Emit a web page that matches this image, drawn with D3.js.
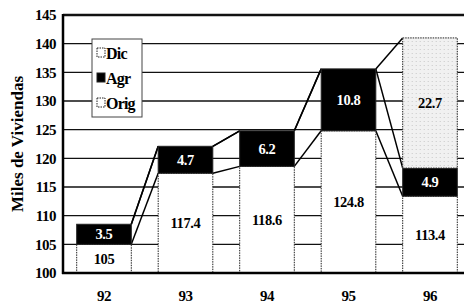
<!DOCTYPE html>
<html>
<head>
<meta charset="utf-8">
<script src="https://cdn.jsdelivr.net/npm/d3@7"></script>
<style>
  body { margin: 0; background: #fff; }
  svg { display: block; }
  text { font-family: "Liberation Serif", "DejaVu Serif", serif; font-weight: bold; }
</style>
</head>
<body>
<div id="chart"></div>
<script>
const years = ['92', '93', '94', '95', '96'];
const orig = [105, 117.4, 118.6, 124.8, 113.4];
const agr = [3.5, 4.7, 6.2, 10.8, 4.9];
const dic = [0, 0, 0, 0, 22.7];
const yTicks = [100, 105, 110, 115, 120, 125, 130, 135, 140, 145];
const legendItems = ['Dic', 'Agr', 'Orig'];

const width = 464, height = 307;
const svg = d3.select('#chart')
  .append('svg')
  .attr('width', width)
  .attr('height', height);

const x = d3.scaleBand()
  .domain(years)
  .range([63, 471])
  .paddingInner(0.33)
  .paddingOuter(0.168);
const y = d3.scaleLinear()
  .domain([100, 145])
  .range([273, 15]);

// stacked segments
const rows = years.map((yr, i) => {
  const l1 = orig[i], l2 = l1 + agr[i], l3 = l2 + dic[i];
  return {yr, levels: [l1, l2, l3], segs: [
    {key: 'Orig', y0: 100, y1: l1, v: orig[i]},
    {key: 'Agr', y0: l1, y1: l2, v: agr[i]},
    {key: 'Dic', y0: l2, y1: l3, v: dic[i]}
  ].filter(s => s.v > 0)};
});

const defs = svg.append('defs');
const pat = defs.append('pattern')
  .attr('id', 'stipple')
  .attr('width', 4).attr('height', 4)
  .attr('patternUnits', 'userSpaceOnUse');
pat.append('rect').attr('width', 4).attr('height', 4).attr('fill', '#f1f1f1');
pat.append('rect').attr('x', 1).attr('y', 1).attr('width', 1).attr('height', 1).attr('fill', '#c8c8c8');

// gridlines
svg.append('g')
  .selectAll('line')
  .data(yTicks)
  .join('line')
  .attr('x1', 63).attr('x2', width)
  .attr('y1', d => y(d)).attr('y2', d => y(d))
  .attr('stroke', '#111')
  .attr('stroke-width', d => d === 145 ? 2.5 : 1.4);

// y labels
svg.append('g')
  .attr('transform', 'translate(63,0)')
  .call(d3.axisLeft(y).tickValues(yTicks).tickSize(0).tickPadding(7))
  .call(g => g.select('.domain').remove())
  .call(g => g.selectAll('text')
    .attr('font-family', '"Liberation Serif", serif')
    .attr('font-weight', 'bold')
    .attr('font-size', 15)
    .attr('letter-spacing', -0.5)
    .attr('fill', '#000'));

// connectors
const links = [];
for (let i = 0; i < rows.length - 1; i++) {
  for (let k = 0; k < 3; k++) {
    links.push({x1: x(years[i]) + x.bandwidth(), y1: rows[i].levels[k],
                x2: x(years[i + 1]), y2: rows[i + 1].levels[k]});
  }
}
svg.append('g')
  .selectAll('line')
  .data(links)
  .join('line')
  .attr('x1', d => d.x1).attr('x2', d => d.x2)
  .attr('y1', d => y(d.y1)).attr('y2', d => y(d.y2))
  .attr('stroke', '#000')
  .attr('stroke-width', 1.5);

const fillOf = {Orig: '#fff', Agr: '#000', Dic: 'url(#stipple)'};
const bars = svg.append('g')
  .selectAll('g')
  .data(rows)
  .join('g')
  .attr('transform', d => `translate(${x(d.yr)},0)`);
bars.selectAll('rect')
  .data(d => d.segs)
  .join('rect')
  .attr('x', 0)
  .attr('width', x.bandwidth())
  .attr('y', d => y(d.y1))
  .attr('height', d => y(d.y0) - y(d.y1))
  .attr('fill', d => fillOf[d.key])
  .attr('stroke', '#222')
  .attr('stroke-width', 1)
  .attr('stroke-dasharray', d => d.key === 'Agr' ? null : '1.5,1');
bars.selectAll('text')
  .data(d => d.segs)
  .join('text')
  .attr('x', x.bandwidth() / 2)
  .attr('y', d => (y(d.y0) + y(d.y1)) / 2)
  .attr('dy', '0.35em')
  .attr('text-anchor', 'middle')
  .attr('font-size', 14.5)
  .attr('letter-spacing', -0.4)
  .attr('fill', d => d.key === 'Agr' ? '#fff' : '#000')
  .text(d => d.v);

// axes frame
svg.append('line')
  .attr('x1', 63).attr('x2', 63).attr('y1', 14).attr('y2', 274)
  .attr('stroke', '#000').attr('stroke-width', 2.5);
svg.append('line')
  .attr('x1', 62).attr('x2', width).attr('y1', y(100)).attr('y2', y(100))
  .attr('stroke', '#000').attr('stroke-width', 2.5);

// x labels
svg.append('g')
  .attr('transform', `translate(0,${y(100)})`)
  .call(d3.axisBottom(x).tickSize(0).tickPadding(17))
  .call(g => g.select('.domain').remove())
  .call(g => g.selectAll('text')
    .attr('font-family', '"Liberation Serif", serif')
    .attr('font-weight', 'bold')
    .attr('font-size', 15)
    .attr('letter-spacing', -0.5)
    .attr('fill', '#000'));

// y title
svg.append('text')
  .attr('transform', `translate(23,${(y(100) + y(145)) / 2}) rotate(-90)`)
  .attr('text-anchor', 'middle')
  .attr('font-size', 17)
  .text('Miles de Viviendas');

// legend
const lg = svg.append('g').attr('transform', 'translate(92,39)');
lg.append('rect')
  .attr('width', 50).attr('height', 78)
  .attr('fill', '#fff')
  .attr('stroke', '#444').attr('stroke-width', 1);
const li = lg.selectAll('g')
  .data(legendItems)
  .join('g')
  .attr('transform', (d, i) => `translate(5,${14 + i * 25})`);
li.append('rect')
  .attr('y', -5).attr('width', 8).attr('height', 9)
  .attr('fill', d => d === 'Agr' ? '#000' : '#fff')
  .attr('stroke', '#222').attr('stroke-width', 1)
  .attr('stroke-dasharray', d => d === 'Agr' ? null : '1.5,1');
li.append('text')
  .attr('x', 9).attr('dy', '0.35em')
  .attr('font-size', 16)
  .attr('letter-spacing', -0.8)
  .text(d => d);
</script>
</body>
</html>
